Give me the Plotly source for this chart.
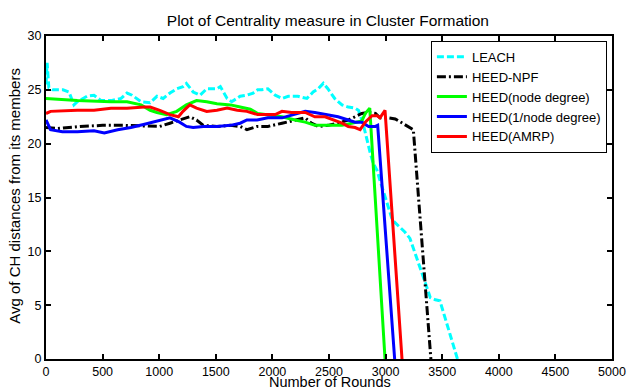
import plotly.graph_objects as go

# ---------------- data ----------------
leach_x = [0, 10, 25, 60, 150, 203, 247, 277, 362, 424, 486, 574, 663, 716, 760, 840, 920,
           980, 1035, 1095, 1155, 1210, 1240, 1300, 1360, 1420, 1510, 1540, 1600, 1640, 1715,
           1775, 1830, 1870, 1905, 1960, 2025, 2085, 2140, 2225, 2305, 2360, 2405, 2450, 2490,
           2550, 2615, 2670, 2730, 2760, 2800, 2835, 2865, 2890, 2925, 2950, 3010, 3060, 3130,
           3170, 3215, 3260, 3305, 3350, 3395, 3440, 3480, 3525, 3570, 3615, 3635]
leach_y = [25.5, 27.5, 25.2, 25.0, 25.0, 24.8, 23.6, 23.9, 24.4, 24.5, 24.0, 24.0, 24.2, 24.7,
           24.5, 23.9, 23.8, 24.4, 24.2, 24.7, 25.1, 25.3, 25.6, 24.8, 24.5, 25.1, 25.1, 25.3,
           24.2, 23.9, 24.4, 24.5, 24.7, 25.0, 25.0, 25.1, 24.5, 24.2, 24.4, 24.4, 24.2, 24.8,
           25.1, 25.6, 25.1, 24.2, 23.6, 23.4, 23.3, 23.1, 21.9, 20.3, 19.1, 18.2, 17.5, 16.6,
           14.5, 12.9, 12.2, 11.8, 11.2, 9.9, 8.5, 7.1, 5.7, 5.5, 5.4, 3.9, 2.4, 0.8, 0.0]

npf_x = [0, 100, 300, 500, 700, 920, 1005, 1095, 1180, 1270, 1330, 1390, 1510, 1630, 1715,
         1775, 1865, 1960, 2085, 2200, 2290, 2345, 2405, 2490, 2580, 2670, 2730, 2790, 2850,
         2910, 2950, 3025, 3085, 3145, 3200, 3245, 3400]
npf_y = [21.5, 21.4, 21.6, 21.7, 21.7, 21.6, 21.6, 21.9, 22.2, 22.5, 22.2, 21.7, 21.6, 21.7,
         21.6, 21.3, 21.6, 21.6, 21.9, 22.2, 22.4, 21.9, 21.6, 21.7, 21.9, 22.2, 22.5, 22.8,
         22.9, 22.8, 22.4, 22.4, 22.3, 21.9, 21.6, 21.3, 0.0]

green_x = [0, 277, 574, 716, 840, 920, 980, 1065, 1155, 1240, 1330, 1420, 1510, 1630, 1715,
           1805, 1870, 1960, 2085, 2200, 2290, 2375, 2490, 2615, 2700, 2790, 2820, 2860, 2995]
green_y = [24.2, 24.0, 23.9, 23.9, 23.6, 23.1, 22.9, 22.7, 23.0, 23.6, 24.0, 23.9, 23.7, 23.6,
           23.4, 23.2, 22.8, 22.7, 22.5, 22.2, 22.0, 21.7, 21.7, 21.7, 21.9, 22.1, 22.8, 23.3, 0.0]

blue_x = [0, 40, 145, 277, 424, 515, 633, 750, 870, 943, 1005, 1095, 1180, 1240, 1300, 1390,
          1510, 1630, 1715, 1775, 1865, 1960, 2085, 2200, 2290, 2375, 2490, 2580, 2670, 2730,
          2790, 2850, 2910, 2930, 3080]
blue_y = [22.2, 21.3, 21.1, 21.1, 21.2, 21.0, 21.3, 21.5, 21.8, 22.0, 22.2, 22.4, 22.0, 21.6,
          21.5, 21.6, 21.6, 21.7, 21.9, 22.2, 22.2, 22.4, 22.4, 22.7, 23.0, 22.9, 22.7, 22.5,
          22.2, 22.0, 22.0, 21.6, 21.6, 21.7, 0.0]

red_x = [0, 40, 277, 424, 574, 716, 870, 920, 1005, 1095, 1170, 1210, 1270, 1330, 1420, 1510,
         1600, 1690, 1775, 1870, 1935, 2025, 2085, 2170, 2290, 2375, 2465, 2550, 2615, 2670,
         2730, 2775, 2820, 2880, 2925, 2950, 2980, 2995, 3145]
red_y = [22.8, 23.0, 23.1, 23.1, 23.3, 23.3, 23.4, 23.4, 23.1, 22.7, 22.5, 23.0, 23.6, 23.3,
         23.0, 23.1, 23.3, 23.1, 23.0, 22.7, 22.7, 22.7, 23.0, 22.9, 22.9, 22.5, 22.5, 22.2,
         21.9, 21.6, 21.5, 21.3, 22.0, 22.6, 22.6, 22.4, 22.8, 23.1, 0.0]

series = [
    ("LEACH", leach_x, leach_y, "#00FFFF", "7px,3px"),
    ("HEED-NPF", npf_x, npf_y, "#000000", "9px,3px,2px,3px"),
    ("HEED(node degree)", green_x, green_y, "#00FF00", "solid"),
    ("HEED(1/node degree)", blue_x, blue_y, "#0000FF", "solid"),
    ("HEED(AMRP)", red_x, red_y, "#FF0000", "solid"),
]

x_ticks = [0, 500, 1000, 1500, 2000, 2500, 3000, 3500, 4000, 4500, 5000]
y_ticks = [0, 5, 10, 15, 20, 25, 30]

FONT = "Liberation Sans, Arial, sans-serif"

fig = go.Figure()
for name, xs, ys, color, dash in series:
    fig.add_trace(go.Scatter(x=xs, y=ys, mode="lines", name=name,
                             line=dict(color=color, width=3, dash=dash)))

axis_common = dict(showline=True, linecolor="black", linewidth=2, mirror="ticks",
                   ticks="inside", ticklen=5, tickwidth=2, tickcolor="black",
                   showgrid=False, zeroline=False, automargin=False,
                   tickfont=dict(family=FONT, size=12.5, color="black"))

fig.update_xaxes(range=[0, 5000], tickvals=x_ticks, ticktext=[str(v) for v in x_ticks],
                 **axis_common)
fig.update_yaxes(range=[0, 30], tickvals=y_ticks, ticktext=[str(v) for v in y_ticks],
                 **axis_common)

fig.add_annotation(text="Number of Rounds", xref="paper", yref="paper",
                   x=0.502, y=-0.072, xanchor="center", yanchor="middle",
                   showarrow=False, font=dict(family=FONT, size=14.5, color="black"))
fig.add_annotation(text="Avg of CH distances from its members", xref="paper", yref="paper",
                   x=-0.055, y=0.505, xanchor="center", yanchor="middle", textangle=-90,
                   showarrow=False, font=dict(family=FONT, size=15, color="black"))

fig.update_layout(
    width=627, height=390,
    margin=dict(l=46, r=15, t=36, b=31),
    paper_bgcolor="white", plot_bgcolor="white",
    title=dict(text="Plot of Centrality measure in Cluster Formation",
               font=dict(family=FONT, size=15.5, color="black"),
               x=0.523, xanchor="center", y=0.946, yanchor="middle"),
    legend=dict(x=0.991, xanchor="right", y=0.985, yanchor="top",
                bgcolor="white", bordercolor="black", borderwidth=1,
                font=dict(family=FONT, size=13, color="black"),
                tracegroupgap=0, itemwidth=30),
    showlegend=True,
)

fig.write_html("out.html")
